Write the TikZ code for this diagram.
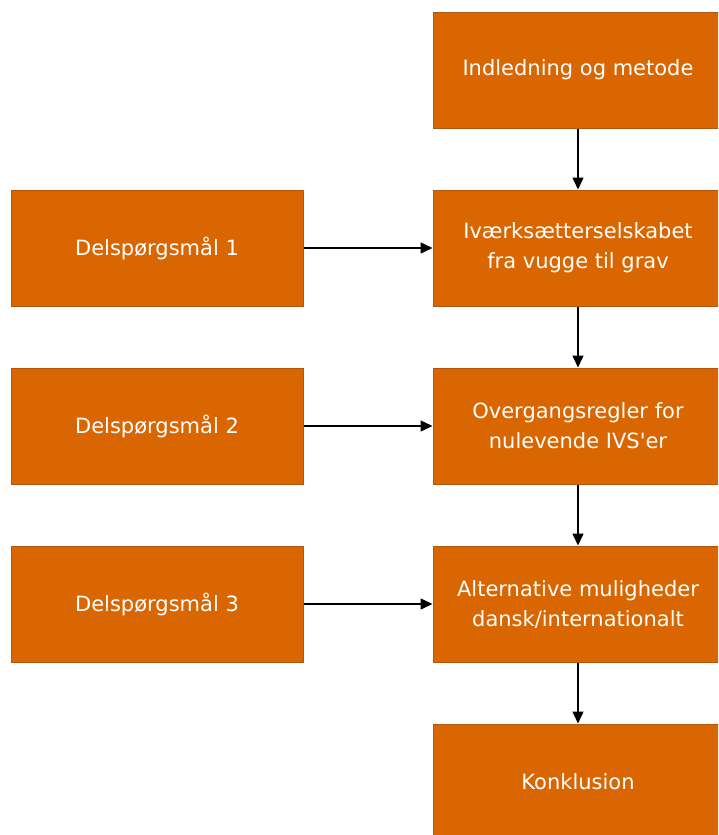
\documentclass[tikz,border=0pt]{standalone}
\usepackage{fontspec}
\setmainfont{DejaVu Sans}
\usetikzlibrary{arrows.meta}
\definecolor{boxfill}{HTML}{D96600}
\definecolor{boxline}{HTML}{B0560E}
\tikzset{
  x=1pt,y=-1pt,
  boxnode/.style={draw=boxline, line width=1pt, fill=boxfill, text=white,
    minimum width=290pt, minimum height=116pt, inner sep=0pt, align=center,
    font=\fontsize{21}{30}\selectfont},
  conn/.style={line width=1.5pt, -{Triangle[length=12pt,width=11pt]}}
}
\begin{document}
\begin{tikzpicture}
\useasboundingbox (0,0) rectangle (718,835);
\clip (0,0) rectangle (718,835);
\node[boxnode] (intro) at (578,70) {Indledning og metode};
\node[boxnode] (ivs) at (578,248) {Iværksætterselskabet\\fra vugge til grav};
\node[boxnode] (over) at (578,426) {Overgangsregler for\\nulevende IVS\textquotesingle er};
\node[boxnode] (alt) at (578,604) {Alternative muligheder\\dansk/internationalt};
\node[boxnode] (konk) at (578,782) {Konklusion};
\node[boxnode, minimum width=292pt] (d1) at (157,248) {Delspørgsmål 1};
\node[boxnode, minimum width=292pt] (d2) at (157,426) {Delspørgsmål 2};
\node[boxnode, minimum width=292pt] (d3) at (157,604) {Delspørgsmål 3};
\draw[conn] (intro) -- (ivs);
\draw[conn] (ivs) -- (over);
\draw[conn] (over) -- (alt);
\draw[conn] (alt) -- (konk);
\draw[conn] (d1) -- (ivs);
\draw[conn] (d2) -- (over);
\draw[conn] (d3) -- (alt);
\end{tikzpicture}
\end{document}
